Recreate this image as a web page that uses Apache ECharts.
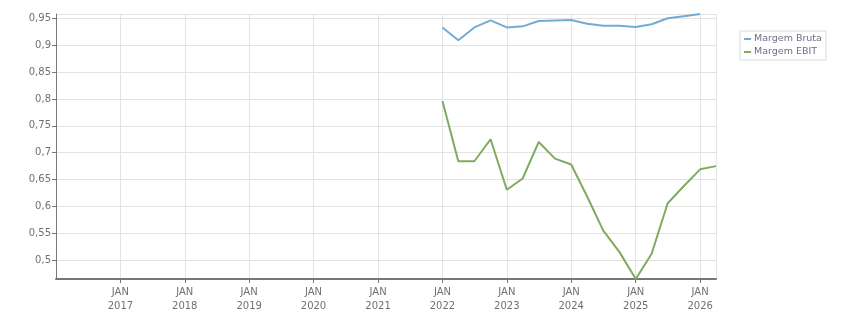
<!DOCTYPE html>
<html>
<head>
<meta charset="utf-8">
<script src="https://cdn.jsdelivr.net/npm/echarts@6/dist/echarts.min.js"></script>
<style>
  html, body { margin: 0; padding: 0; background: #fff; }
  #chart { width: 851px; height: 313px; }
</style>
</head>
<body>
<div id="chart"></div>
<script>
var dates = [
  '2022-01-01', '2022-04-01', '2022-07-01', '2022-10-01',
  '2023-01-01', '2023-04-01', '2023-07-01', '2023-10-01',
  '2024-01-01', '2024-04-01', '2024-07-01', '2024-10-01',
  '2025-01-01', '2025-04-01', '2025-07-01', '2025-10-01',
  '2026-01-01', '2026-04-01'
];
var margemBruta = [
  0.933, 0.909, 0.933, 0.946, 0.933, 0.935, 0.945, 0.946,
  0.947, 0.940, 0.936, 0.936, 0.934, 0.939, 0.950, 0.954,
  0.958
];
var margemEbit = [
  0.796, 0.684, 0.684, 0.725, 0.631, 0.652, 0.720, 0.689,
  0.678, 0.618, 0.555, 0.515, 0.465, 0.512, 0.606, 0.638,
  0.669, 0.675
];
var seriesNames = ['Margem Bruta', 'Margem EBIT'];
var firstYearLabel = 2017;

(function () {
  var blue = '#72acd3';
  var green = '#80ab5f';
  var grid = '#e3e3e3';
  var axis = '#777';
  var text = '#707070';

  function pairs(vals) {
    return vals.map(function (v, i) { return [dates[i], v]; });
  }

  var chart = echarts.init(document.getElementById('chart'), null, { renderer: 'canvas' });
  chart.setOption({
    animation: false,
    grid: { left: 56, right: 135, top: 14, bottom: 33, containLabel: false },
    legend: {
      orient: 'vertical',
      left: 740,
      top: 31,
      padding: [3, 4, 3, 4],
      borderColor: '#dcdcdc',
      borderWidth: 1,
      itemWidth: 7,
      itemHeight: 2,
      itemGap: 3,
      icon: 'rect',
      data: [
        { name: seriesNames[0], textStyle: { color: '#6e6e88' } },
        { name: seriesNames[1], textStyle: { color: '#6e6e88' } }
      ],
      textStyle: { fontFamily: 'DejaVu Sans', fontSize: 9.5, padding: [0, 0, 0, -2] }
    },
    xAxis: {
      type: 'time',
      min: '2016-01-02',
      max: '2026-04-01',
      splitNumber: 10,
      minInterval: 365 * 86400000,
      maxInterval: 366 * 86400000,
      axisLine: { lineStyle: { color: axis, width: 2 } },
      axisTick: { show: true, length: 4, lineStyle: { color: axis } },
      splitLine: { show: true, lineStyle: { color: grid } },
      axisLabel: {
        color: text,
        fontFamily: 'DejaVu Sans',
        fontSize: 10,
        lineHeight: 14,
        margin: 6,
        formatter: function (val) {
          var d = new Date(val);
          if (d.getFullYear() < firstYearLabel) return '';
          return 'JAN\n' + d.getFullYear();
        }
      }
    },
    yAxis: {
      type: 'value',
      min: 0.465,
      max: 0.958,
      splitNumber: 10,
      axisLine: { show: true, lineStyle: { color: axis, width: 1 } },
      axisTick: { show: true, length: 4, lineStyle: { color: axis } },
      splitLine: { show: true, lineStyle: { color: grid } },
      axisLabel: {
        showMinLabel: false,
        showMaxLabel: false,
        color: text,
        fontFamily: 'DejaVu Sans',
        fontSize: 10,
        margin: 5,
        formatter: function (v) { return String(+v.toFixed(2)).replace('.', ','); }
      }
    },
    series: [
      {
        name: seriesNames[0],
        type: 'line',
        data: pairs(margemBruta),
        showSymbol: false,
        symbol: 'none',
        lineStyle: { color: blue, width: 2 },
        itemStyle: { color: blue }
      },
      {
        name: seriesNames[1],
        type: 'line',
        data: pairs(margemEbit),
        showSymbol: false,
        symbol: 'none',
        lineStyle: { color: green, width: 2 },
        itemStyle: { color: green }
      }
    ]
  });

  window.addEventListener('resize', function () { chart.resize(); });
})();
</script>
</body>
</html>
